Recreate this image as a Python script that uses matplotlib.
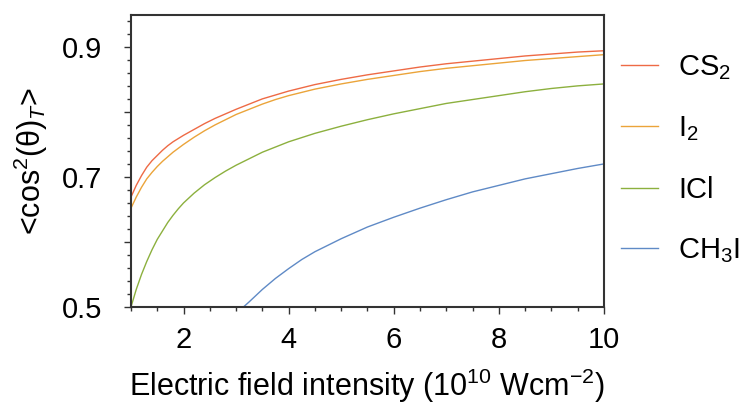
"""alignment vs field intensity"""
import matplotlib.pyplot as plt
from matplotlib.ticker import MultipleLocator, FixedFormatter, FixedLocator

plt.rcParams["font.family"] = ["Liberation Sans", "DejaVu Sans"]
plt.rcParams["mathtext.fontset"] = "custom"
plt.rcParams["mathtext.rm"] = "Liberation Sans"
plt.rcParams["mathtext.it"] = "Liberation Sans:italic"

# values
x_full = [1.0, 1.1, 1.2, 1.3, 1.4, 1.5, 1.6, 1.7, 1.8, 1.9, 2.0, 2.2, 2.4,
          2.6, 2.8, 3.0, 3.25, 3.5, 3.75, 4.0, 4.5, 5.0, 5.5, 6.0, 6.5, 7.0,
          7.5, 8.0, 8.5, 9.0, 9.5, 10.0]
y_cs2 = [0.669, 0.687, 0.702, 0.715, 0.725, 0.733, 0.741, 0.748, 0.754,
         0.759, 0.764, 0.773, 0.782, 0.790, 0.797, 0.804, 0.812, 0.820,
         0.826, 0.832, 0.842, 0.850, 0.857, 0.863, 0.869, 0.874, 0.878,
         0.882, 0.886, 0.889, 0.892, 0.894]
y_i2 = [0.652, 0.669, 0.684, 0.697, 0.707, 0.716, 0.724, 0.731, 0.738,
        0.744, 0.750, 0.761, 0.771, 0.780, 0.788, 0.796, 0.804, 0.812,
        0.819, 0.825, 0.835, 0.843, 0.850, 0.856, 0.862, 0.867, 0.871,
        0.875, 0.879, 0.882, 0.885, 0.888]
y_icl = [0.500, 0.527, 0.550, 0.570, 0.588, 0.604, 0.617, 0.630, 0.641,
         0.651, 0.660, 0.675, 0.688, 0.699, 0.709, 0.718, 0.728, 0.738,
         0.746, 0.754, 0.767, 0.778, 0.788, 0.797, 0.805, 0.813, 0.819,
         0.825, 0.831, 0.836, 0.840, 0.843]
x_ch3i = [3.14, 3.25, 3.5, 3.75, 4.0, 4.25, 4.5, 4.75, 5.0, 5.5, 6.0, 6.5,
          7.0, 7.5, 8.0, 8.5, 9.0, 9.5, 10.0]
y_ch3i = [0.500, 0.508, 0.527, 0.544, 0.559, 0.573, 0.585, 0.595, 0.605,
          0.623, 0.638, 0.652, 0.665, 0.677, 0.687, 0.697, 0.705, 0.713,
          0.720]

SERIES = [
    (x_full, y_cs2, "CS$_2$", "#ee6a45"),
    (x_full, y_i2, "I$_2$", "#eba43a"),
    (x_full, y_icl, "ICl", "#8cb03e"),
    (x_ch3i, y_ch3i, "CH$_3$I", "#5f8ac6"),
]

fig = plt.figure(figsize=(7.43, 4.05), dpi=100)
ax = fig.add_axes([0.1763, 0.242, 0.6366, 0.721])

for xs, ys, label, color in SERIES:
    ax.plot(xs, ys, color=color, lw=1.0, label=label)

ax.set_xlim(1, 10)
ax.set_ylim(0.5, 0.949)

ax.xaxis.set_major_locator(MultipleLocator(2))
ax.xaxis.set_minor_locator(MultipleLocator(0.5))
ax.yaxis.set_major_locator(FixedLocator([0.5, 0.6, 0.7, 0.8, 0.9]))
ax.yaxis.set_major_formatter(FixedFormatter(["0.5", "", "0.7", "", "0.9"]))
ax.yaxis.set_minor_locator(MultipleLocator(0.02))

ax.tick_params(which="both", direction="out", color="#333333", width=1.0,
               labelsize=21)
ax.tick_params(axis="x", which="major", pad=9)
ax.tick_params(axis="y", which="major", pad=16)
ax.tick_params(which="major", length=5)
ax.tick_params(which="minor", length=3)
for spine in ax.spines.values():
    spine.set_color("#333333")
    spine.set_linewidth(1.5)

ax.set_xlabel("Electric field intensity (10$^{10}$ Wcm$^{-2}$)", fontsize=22,
              labelpad=9)
ax.set_ylabel("<cos$^{2}$(θ)$_{T}$>", fontsize=22, labelpad=8)

ax.legend(loc="upper left", bbox_to_anchor=(1.035, 0.87), frameon=False,
          fontsize=21, handlelength=1.3, handletextpad=0.68, labelspacing=1.12,
          borderpad=0, borderaxespad=0)

fig.savefig("out.png", dpi=100)
